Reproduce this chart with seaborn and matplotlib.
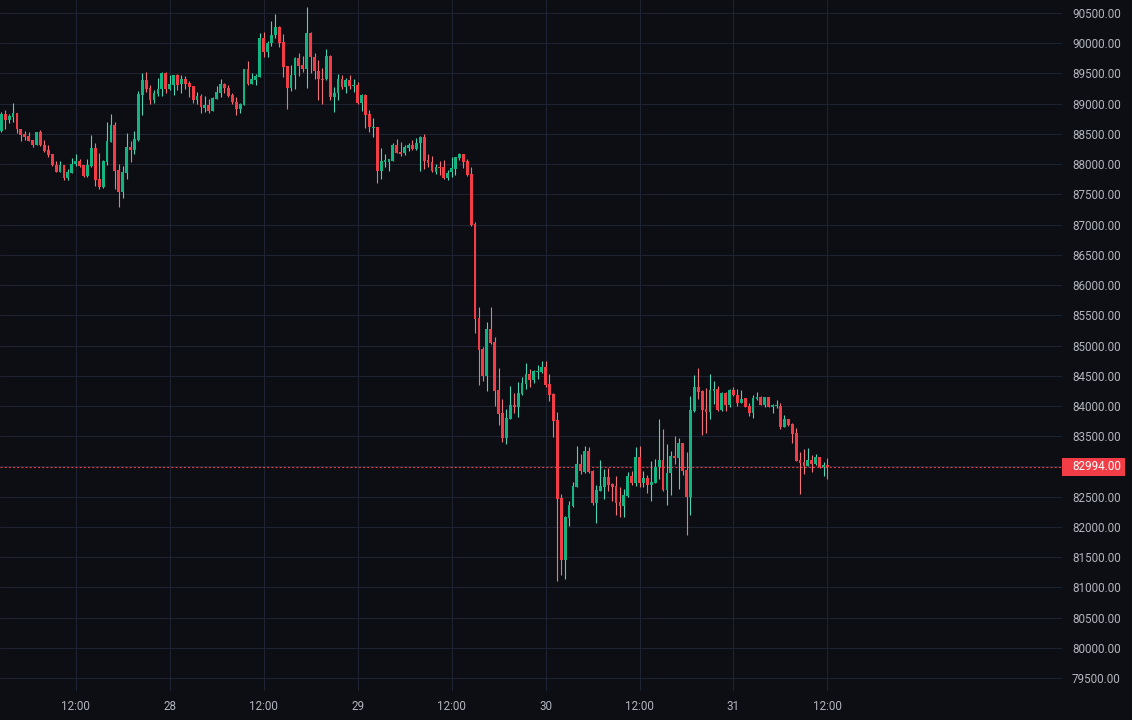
import numpy as np
import pandas as pd
import matplotlib
matplotlib.use("Agg")
import matplotlib.pyplot as plt
import matplotlib.transforms as mtransforms
from matplotlib.patches import Rectangle
import seaborn as sns

# 30-minute candles, 27 02:30 -> 31 12:00
opens = [88553, 88829, 88730, 88785, 88840, 88575, 88498, 88465, 88399, 88322,
         88531, 88311, 88234, 88168, 87980, 87870, 87980, 87771, 87859, 88002,
         88057, 87980, 87804, 87969, 88267, 87749, 87616, 88035, 88366, 88653,
         87903, 87539, 87859, 88289, 88234, 88399, 89150, 89392, 89260, 89061,
         89161, 89238, 89514, 89238, 89315, 89480, 89326, 89403, 89337, 89293,
         89061, 89127, 88929, 88973, 88885, 89083, 89182, 89326, 89260, 89138,
         89028, 88918, 88984, 89574, 89326, 89392, 89447, 90086, 89860, 89998,
         90131, 90274, 90020, 89623, 89260, 89469, 89756, 89634, 89579, 90175,
         89767, 89546, 89414, 89403, 89789, 89116, 89171, 89403, 89271, 89392,
         89293, 89309, 89017, 89149, 88830, 88598, 88615, 87892, 88041, 88041,
         88058, 88317, 88207, 88179, 88267, 88317, 88256, 88344, 88455, 88069,
         88036, 87870, 87958, 87947, 87771, 87870, 87925, 88102, 88168, 88052,
         87837, 87010, 85455, 84948, 84496, 85268, 85058, 84265, 83879, 83471,
         83791, 84017, 83989, 84199, 84364, 84529, 84430, 84562, 84562, 84639,
         84364, 84199, 83769, 82478, 81453, 82148, 82346, 82666, 83041, 82909,
         83250, 82931, 82401, 82600, 82666, 82820, 82710, 82677, 82412, 82346,
         82512, 82842, 82721, 83151, 82732, 82809, 82699, 82732, 82986, 83107,
         82611, 82887, 83173, 83140, 83383, 82942, 82490, 83923, 84309, 84243,
         83945, 83901, 84254, 84276, 83934, 84221, 84022, 84265, 84188, 84055,
         84132, 84000, 83889, 84121, 84154, 84011, 84143, 83989, 83995, 84000,
         83658, 83779, 83702, 83548, 83107, 83073, 83007, 83107, 83040, 83151,
         82985, 83018]
highs = [88862, 88895, 88829, 89006, 88850, 88580, 88542, 88531, 88405, 88540,
         88565, 88399, 88311, 88175, 88057, 88057, 87985, 87914, 88101, 88168,
         88079, 87985, 88090, 88487, 88355, 88190, 88068, 88697, 88829, 88697,
         88002, 87969, 88520, 88388, 88542, 89215, 89503, 89525, 89304, 89227,
         89425, 89525, 89525, 89469, 89480, 89492, 89469, 89458, 89381, 89300,
         89193, 89160, 89127, 89083, 89105, 89293, 89414, 89348, 89304, 89171,
         89105, 89017, 89580, 89701, 89502, 89491, 90164, 90186, 90042, 90362,
         90483, 90285, 90153, 89630, 89634, 89770, 89833, 89789, 90605, 90186,
         89833, 89723, 89590, 89899, 89800, 89271, 89491, 89469, 89425, 89469,
         89414, 89359, 89160, 89160, 88896, 88764, 88620, 88267, 88168, 88090,
         88355, 88410, 88366, 88317, 88355, 88399, 88432, 88466, 88499, 88168,
         88135, 88002, 88058, 88069, 87903, 88113, 88124, 88190, 88175, 88080,
         87947, 87043, 85632, 84981, 85389, 85632, 85136, 84628, 84121, 83945,
         84331, 84210, 84397, 84474, 84706, 84607, 84595, 84673, 84739, 84739,
         84529, 84210, 83901, 82545, 82181, 82434, 82743, 83339, 83206, 83339,
         83317, 82940, 82699, 83107, 82964, 82975, 82720, 82842, 82655, 82633,
         82909, 82920, 83317, 83339, 82920, 82854, 83085, 83129, 83791, 83614,
         83372, 83261, 83504, 83471, 83390, 83239, 84166, 84507, 84629, 84265,
         84298, 84529, 84408, 84331, 84232, 84232, 84287, 84320, 84276, 84264,
         84140, 84055, 84187, 84231, 84165, 84154, 84150, 84033, 84099, 84044,
         83845, 83790, 83724, 83636, 83239, 83294, 83305, 83184, 83206, 83160,
         83073, 83140]
lows = [88540, 88575, 88686, 88697, 88509, 88388, 88399, 88380, 88278, 88315,
        88305, 88201, 88123, 87975, 87865, 87865, 87738, 87738, 87855, 87969,
        87947, 87782, 87782, 87947, 87638, 87583, 87605, 87991, 88360, 87594,
        87296, 87440, 87749, 88035, 88168, 88390, 88813, 89194, 88995, 89017,
        89128, 89128, 89172, 89227, 89150, 89227, 89183, 89248, 89105, 89017,
        88995, 88841, 88863, 88841, 88880, 89075, 89116, 89182, 89116, 88995,
        88819, 88852, 88980, 89304, 89320, 89304, 89440, 89778, 89778, 89954,
        90087, 89943, 89447, 88907, 89215, 89248, 89458, 89530, 89260, 89502,
        89403, 89061, 88995, 89395, 89061, 88868, 89061, 89250, 89182, 89237,
        89193, 89000, 88874, 88593, 88537, 88455, 87694, 87760, 87958, 87892,
        88050, 88180, 88135, 88146, 88223, 88234, 88234, 87892, 87914, 87947,
        87870, 87837, 87826, 87760, 87738, 87793, 87826, 88069, 87936, 87800,
        86980, 85213, 84353, 84419, 84254, 85020, 83999, 83691, 83405, 83372,
        83780, 83879, 83824, 84188, 84287, 84309, 84386, 84441, 84550, 84309,
        84088, 83493, 81111, 81211, 81144, 82015, 82335, 82660, 82876, 82898,
        82898, 82368, 82060, 82589, 82468, 82600, 82435, 82203, 82159, 82170,
        82490, 82699, 82677, 82655, 82666, 82556, 82423, 82720, 82787, 82600,
        82368, 82534, 83041, 82633, 82865, 81861, 82192, 83901, 84121, 83526,
        83548, 83791, 84033, 83920, 83920, 83923, 83989, 84160, 84000, 84044,
        83978, 83834, 83801, 84099, 84010, 83989, 83978, 83889, 83967, 83625,
        83650, 83670, 83393, 83085, 82544, 82875, 83000, 82908, 83030, 82975,
        82842, 82798]
closes = [88829, 88730, 88796, 88840, 88575, 88487, 88454, 88388, 88322, 88531,
          88311, 88223, 88157, 87980, 87870, 87980, 87771, 87870, 88002, 88057,
          87969, 87804, 87991, 88267, 87738, 87627, 88046, 88388, 88653, 87892,
          87539, 87870, 88289, 88234, 88410, 89160, 89392, 89238, 89061, 89183,
          89238, 89514, 89238, 89326, 89469, 89304, 89414, 89326, 89271, 89061,
          89127, 88940, 88973, 88885, 89094, 89193, 89326, 89260, 89127, 89028,
          88918, 88995, 89574, 89326, 89403, 89458, 90086, 89860, 89998, 90142,
          90274, 90009, 89612, 89260, 89475, 89756, 89623, 89568, 90175, 89767,
          89546, 89403, 89392, 89789, 89116, 89171, 89403, 89271, 89392, 89293,
          89315, 89017, 89149, 88819, 88609, 88620, 87892, 88052, 88063, 88080,
          88317, 88190, 88174, 88278, 88317, 88251, 88355, 88455, 88058, 88025,
          87881, 87947, 87936, 87771, 87859, 87936, 88113, 88168, 88036, 87815,
          86994, 85444, 84926, 84496, 85268, 85036, 84254, 83868, 83471, 83802,
          84011, 83984, 84210, 84375, 84529, 84430, 84573, 84584, 84639, 84342,
          84188, 83757, 82468, 81453, 82170, 82363, 82677, 83041, 82920, 83250,
          82909, 82390, 82611, 82677, 82820, 82699, 82666, 82401, 82346, 82523,
          82842, 82721, 83151, 82732, 82809, 82699, 82743, 82986, 83107, 82611,
          82887, 83173, 83140, 83383, 82931, 82490, 83934, 84309, 84232, 83934,
          83901, 84265, 84287, 83934, 84221, 84022, 84265, 84177, 84055, 84121,
          83989, 83889, 84132, 84154, 84022, 84143, 83989, 84011, 84011, 83647,
          83779, 83680, 83537, 83095, 83062, 83007, 83107, 83040, 83151, 82985,
          83018, 82994]

tick_pos = [19, 43, 67, 91, 115, 139, 163, 187, 211]
tick_labels = ["12:00", "28", "12:00", "29", "12:00", "30", "12:00", "31", "12:00"]
price_ticks = list(range(79500, 91000, 500))
last_price = 82994

BG = "#0c0e13"
GRID = "#1d2330"
TXT = "#b2b5be"
UP, DOWN = "#13b382", "#f23d46"
UP_WICK, DOWN_WICK = "#4fd3b6", "#f3737b"

df = pd.DataFrame({"open": opens, "high": highs, "low": lows, "close": closes})
df["idx"] = np.arange(len(df))
df["up"] = df["close"] >= df["open"]
df["body_lo"] = df[["open", "close"]].min(axis=1)
df["body_h"] = (df["close"] - df["open"]).abs().clip(lower=14)

sns.set_theme(style="dark", rc={"axes.facecolor": BG, "figure.facecolor": BG,
                                "grid.color": GRID, "axes.edgecolor": BG})
plt.rcParams["font.family"] = ["Roboto", "DejaVu Sans"]

fig = plt.figure(figsize=(11.32, 7.2), dpi=100)
ax = fig.add_axes([0, 29 / 720, 1062 / 1132, 691 / 720])
ax.set_facecolor(BG)

ax.vlines(df["idx"], df["low"], df["high"],
          colors=np.where(df["up"], UP_WICK, DOWN_WICK), linewidth=0.8, zorder=3)
ax.bar(df["idx"], df["body_h"], bottom=df["body_lo"], width=0.72,
       color=np.where(df["up"], UP, DOWN), linewidth=0, zorder=4)

ax.set_xlim(-0.33, 270.9)
ax.set_ylim(79286, 90715)
ax.set_xticks(tick_pos)
ax.set_xticklabels(tick_labels)
ax.set_yticks(price_ticks)
ax.set_yticklabels(["" if p == 83000 else f"{p:.2f}" for p in price_ticks])
ax.yaxis.tick_right()
ax.tick_params(axis="y", length=0, pad=7.2, labelsize=8.4, labelcolor=TXT)
ax.tick_params(axis="x", length=0, pad=6.5, labelsize=8.4, labelcolor=TXT)
ax.grid(True, color=GRID, linewidth=0.75)
ax.set_axisbelow(True)
sns.despine(ax=ax, left=True, bottom=True, right=True, top=True)

# last price line and tag
ax.axhline(last_price, color=DOWN, linewidth=0.75, linestyle=(0, (2, 2)), zorder=2)
blend = mtransforms.blended_transform_factory(ax.transAxes, ax.transData)
ax.add_patch(Rectangle((1.0, last_price - 150), 63 / 1062, 300, transform=blend,
                       facecolor=DOWN, edgecolor="none", clip_on=False, zorder=6))
ax.text(1.0 + 10 / 1062, last_price, f"{last_price:.2f}", transform=blend,
        ha="left", va="center", color="white", fontsize=8.4, zorder=7, clip_on=False)

fig.savefig("out.png", dpi=100, facecolor=BG)
